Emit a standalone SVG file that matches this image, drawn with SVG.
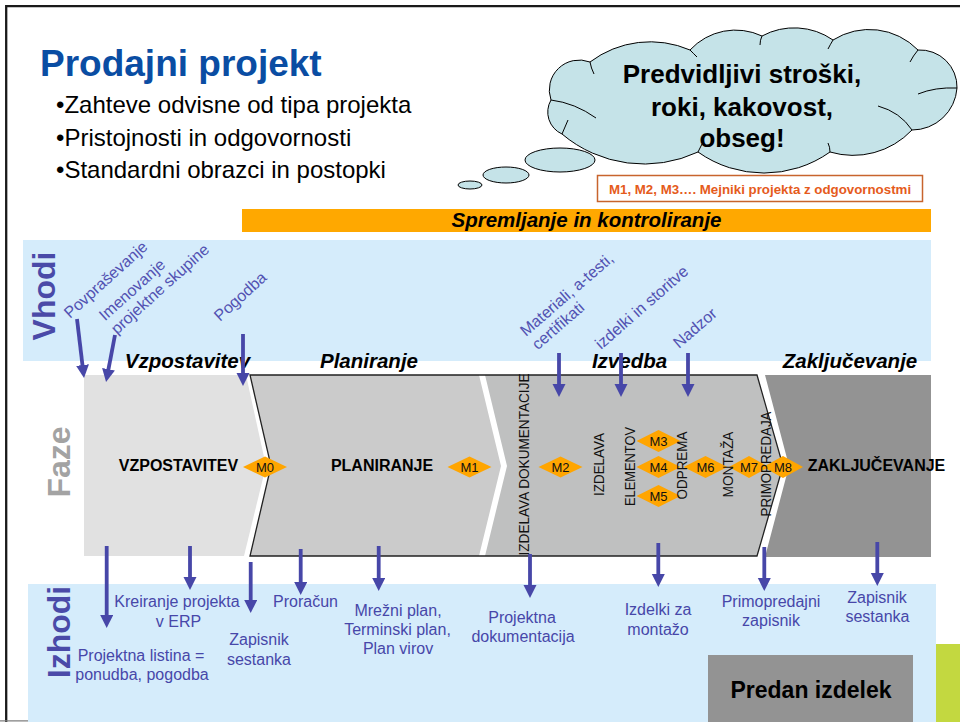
<svg xmlns="http://www.w3.org/2000/svg" width="960" height="722" viewBox="0 0 960 722">
<defs>
<style>
text{font-family:"Liberation Sans",Arial,sans-serif}
.b{font-weight:bold}
.bi{font-weight:bold;font-style:italic}
.side{font-weight:bold;font-size:32px;text-anchor:middle}
.in{font-size:16px;fill:#5252B2}
.out{font-size:16px;fill:#4747A9;text-anchor:middle}
.ph{font-size:16px;font-weight:bold;text-anchor:middle;fill:#000}
.vt{font-size:14px;text-anchor:middle;fill:#111}
.head{font-size:20.5px;font-weight:bold;font-style:italic;text-anchor:middle}
.dia{fill:#FFA500}
.ml{font-size:13px;text-anchor:middle;fill:#111}
.arr{stroke:#4747A8;stroke-width:3.8;fill:none;marker-end:url(#ah)}
.band{fill:#D5ECFB}
</style>
<marker id="ah" markerUnits="userSpaceOnUse" markerWidth="14" markerHeight="14" refX="1" refY="6.5" orient="auto">
<path d="M0,0 L13,6.5 L0,13 z" fill="#4747A8"/>
</marker>
</defs>
<rect width="960" height="722" fill="#fff"/>
<path d="M1000,6.2 H6.2 V722" fill="none" stroke="#1a1a1a" stroke-width="2.3"/>
<line x1="0" y1="720.9" x2="960" y2="720.9" stroke="#7f7f7f" stroke-width="1.4"/>

<g id="title">
<text x="40" y="76" class="b" font-size="37" fill="#0A4DA3">Prodajni projekt</text>
</g>
<g id="bullets" font-size="24">
<text x="56" y="112.5">•Zahteve odvisne od tipa projekta</text>
<text x="56" y="145.5">•Pristojnosti in odgovornosti</text>
<text x="56" y="178">•Standardni obrazci in postopki</text>
</g>

<g id="cloud">
<ellipse cx="470" cy="185" rx="12" ry="4" fill="#C5E3E8" stroke="#000" stroke-width="1"/>
<ellipse cx="506" cy="175" rx="23" ry="8" fill="#C5E3E8" stroke="#000" stroke-width="1"/>
<ellipse cx="560" cy="160" rx="35" ry="12" fill="#C5E3E8" stroke="#000" stroke-width="1"/>
<path d="M551,100 A30,30 0 0 1 590,62 A100,100 0 0 1 690,50 A62,62 0 0 1 762,36 A68,68 0 0 1 833,40 A68,68 0 0 1 918,50 A37,37 0 0 1 957,88 A45,45 0 0 1 912,130 A81,81 0 0 1 830,152 A114,114 0 0 1 698,152 A127,127 0 0 1 562,134 A24,24 0 0 1 551,100 Z" fill="#C5E3E8" stroke="#000" stroke-width="1"/>
<path d="M551,100 Q575,103 596,118 M590,62 Q591,68 594,74 M690,50 Q693,53 697,57 M762,36 Q760,40 760,45 M833,40 Q830,45 828,49 M918,50 Q913,56 910,62 M957,88 Q935,87 918,94 M912,130 Q900,112 878,106 M830,152 Q830,147 828,143 M698,152 Q700,148 702,144 M562,134 Q565,127 568,120" fill="none" stroke="#000" stroke-width="1"/>
<text class="b" font-size="26" text-anchor="middle"><tspan x="742" y="83">Predvidljivi stroški,</tspan><tspan x="742" y="115.5">roki, kakovost,</tspan><tspan x="742" y="147">obseg!</tspan></text>
</g>

<g id="legend">
<rect x="597.5" y="175.5" width="325" height="26" fill="#fff" stroke="#C8642D" stroke-width="1.5"/>
<text x="760" y="194" class="b" font-size="13.3" text-anchor="middle" fill="#E55B1C">M1, M2, M3…. Mejniki projekta z odgovornostmi</text>
</g>

<g id="monitoring">
<rect x="242" y="209" width="689" height="23" fill="#FFA800"/>
<text x="586.5" y="227" class="bi" font-size="20.5" text-anchor="middle">Spremljanje in kontroliranje</text>
</g>

<g id="vhodi">
<rect class="band" x="23" y="240" width="908" height="121"/>
<text class="side" fill="#4A4AA8" transform="translate(55,296) rotate(-90)">Vhodi</text>
</g>

<g id="izhodi">
<rect class="band" x="28" y="584" width="908" height="138"/>
<text class="side" fill="#4A4AA8" transform="translate(70,632) rotate(-90)">Izhodi</text>
</g>

<g id="faze">
<text class="side" fill="#A3A3A3" font-size="31.5" transform="translate(70,462) rotate(-90)">Faze</text>
</g>

<g id="phase-vzpostavitev">
<polygon points="84,375 246,375 266,466 244,556 84,556" fill="#E1E1E1"/>
<text class="ph" x="178.5" y="470.5">VZPOSTAVITEV</text>
<text class="head" x="187.5" y="368">Vzpostavitev</text>
</g>
<g id="phase-planiranje">
<polygon points="250,375 479,375 501,466 479,556 250,556 271,466" fill="#CBCBCB"/>
<text class="ph" x="382" y="470.5">PLANIRANJE</text>
<text class="head" x="369" y="368">Planiranje</text>
</g>
<g id="phase-izvedba">
<polygon points="485,375 757,375 783,466 757,556 485,556 507,466" fill="#BFC0C0"/>
<text class="head" x="629.5" y="368">Izvedba</text>
</g>
<polygon points="250,375 757,375 783,466 757,556 250,556 271,466" fill="none" stroke="#222" stroke-width="1.3"/>
<g id="phase-zakljucevanje">
<polygon points="765,375 931,375 931,557 765,557 789,466" fill="#939393"/>
<text class="head" x="850" y="368">Zaključevanje</text>
</g>

<g id="milestones">
<g id="m0"><polygon class="dia" points="243,467 265,456.5 287,467 265,477.5"/><text class="ml" x="265" y="471.5">M0</text></g>
<g id="m1"><polygon class="dia" points="447.5,467 469.5,456.5 491.5,467 469.5,477.5"/><text class="ml" x="469.5" y="471.5">M1</text></g>
<g id="m2"><polygon class="dia" points="538.5,467 560.5,456.5 582.5,467 560.5,477.5"/><text class="ml" x="560.5" y="471.5">M2</text></g>
<g id="m3"><polygon class="dia" points="636.5,441 658.5,430 680.5,441 658.5,452"/><text class="ml" x="658.5" y="445.5">M3</text></g>
<g id="m4"><polygon class="dia" points="636.5,467 658.5,456 680.5,467 658.5,478"/><text class="ml" x="658.5" y="471.5">M4</text></g>
<g id="m5"><polygon class="dia" points="636.5,496 658.5,485 680.5,496 658.5,507"/><text class="ml" x="658.5" y="500.5">M5</text></g>
<g id="m6"><polygon class="dia" points="683.5,467 705.5,456 727.5,467 705.5,478"/><text class="ml" x="705.5" y="471.5">M6</text></g>
<g id="m7"><polygon class="dia" points="729,467 749,456 769,467 749,478"/><text class="ml" x="749" y="471.5">M7</text></g>
<g id="m8"><polygon class="dia" points="763,467 783,456 803,467 783,478"/><text class="ml" x="783" y="471.5">M8</text></g>
</g>

<g id="izvedba-steps">
<text class="vt" transform="translate(529,464.5) rotate(-90)" textLength="182" lengthAdjust="spacingAndGlyphs">IZDELAVA DOKUMENTACIJE</text>
<text class="vt" transform="translate(604,464.5) rotate(-90)" textLength="63" lengthAdjust="spacingAndGlyphs">IZDELAVA</text>
<text class="vt" transform="translate(635,466.5) rotate(-90)" textLength="79" lengthAdjust="spacingAndGlyphs">ELEMENTOV</text>
<text class="vt" transform="translate(687,465.5) rotate(-90)" textLength="68" lengthAdjust="spacingAndGlyphs">ODPREMA</text>
<text class="vt" transform="translate(733,464.5) rotate(-90)" textLength="66" lengthAdjust="spacingAndGlyphs">MONTAŽA</text>
<text class="vt" transform="translate(771,464) rotate(-90)" textLength="105" lengthAdjust="spacingAndGlyphs">PRIMOPREDAJA</text>
</g>

<g id="phase-zakljucevanje-label">
<text class="ph" x="876.5" y="471">ZAKLJUČEVANJE</text>
</g>

<g id="input-labels">
<text class="in" transform="translate(70,319) rotate(-42)">Povpraševanje</text>
<text class="in" transform="translate(105,321.5) rotate(-42)"><tspan x="0" y="0">Imenovanje</tspan><tspan x="0" y="18">projektne skupine</tspan></text>
<text class="in" transform="translate(220,322) rotate(-42)">Pogodba</text>
<text class="in" transform="translate(526,337) rotate(-41)"><tspan x="0" y="0">Materiali, a-testi,</tspan><tspan x="0" y="18">certifikati</tspan></text>
<text class="in" transform="translate(601,350) rotate(-41)">izdelki in storitve</text>
<text class="in" transform="translate(679,349) rotate(-41)">Nadzor</text>
</g>

<g id="output-labels">
<text class="out"><tspan x="141" y="661">Projektna listina =</tspan><tspan x="142" y="680">ponudba, pogodba</tspan></text>
<text class="out"><tspan x="177" y="607">Kreiranje projekta</tspan><tspan x="178.5" y="626.5">v ERP</tspan></text>
<text class="out"><tspan x="259" y="645">Zapisnik</tspan><tspan x="259" y="664.5">sestanka</tspan></text>
<text class="out" x="305.5" y="607">Proračun</text>
<text class="out"><tspan x="398" y="615.5">Mrežni plan,</tspan><tspan x="397.5" y="635">Terminski plan,</tspan><tspan x="398" y="653.5">Plan virov</tspan></text>
<text class="out"><tspan x="522" y="623">Projektna</tspan><tspan x="523" y="642">dokumentacija</tspan></text>
<text class="out"><tspan x="658" y="615">Izdelki za</tspan><tspan x="658" y="634.5">montažo</tspan></text>
<text class="out"><tspan x="771" y="607">Primopredajni</tspan><tspan x="771" y="626">zapisnik</tspan></text>
<text class="out"><tspan x="877" y="603">Zapisnik</tspan><tspan x="877.5" y="622">sestanka</tspan></text>
</g>

<g id="connectors">
<line class="arr" x1="77" y1="319" x2="82.6" y2="366.1"/>
<line class="arr" x1="115" y1="335" x2="108.3" y2="370.2"/>
<line class="arr" x1="243" y1="334" x2="243" y2="374"/>
<line class="arr" x1="559" y1="353" x2="559" y2="385"/>
<line class="arr" x1="621" y1="353" x2="621" y2="385"/>
<line class="arr" x1="688" y1="353" x2="688" y2="385"/>
<line class="arr" x1="106.7" y1="546" x2="106.7" y2="616"/>
<line class="arr" x1="190" y1="546" x2="190" y2="578"/>
<line class="arr" x1="250.7" y1="562" x2="250.7" y2="601"/>
<line class="arr" x1="300.7" y1="549" x2="300.7" y2="583"/>
<line class="arr" x1="378.7" y1="546" x2="378.7" y2="579"/>
<line class="arr" x1="530" y1="554" x2="530" y2="586"/>
<line class="arr" x1="658.3" y1="543" x2="658.3" y2="575"/>
<line class="arr" x1="764.3" y1="547" x2="764.3" y2="579"/>
<line class="arr" x1="877.3" y1="542" x2="877.3" y2="574"/>
</g>

<g id="result">
<rect x="708" y="655" width="205" height="67" fill="#939393"/>
<text x="811" y="698" class="b" font-size="23" text-anchor="middle">Predan izdelek</text>
</g>
<rect x="936" y="644" width="24" height="78" fill="#C3D840"/>
</svg>
